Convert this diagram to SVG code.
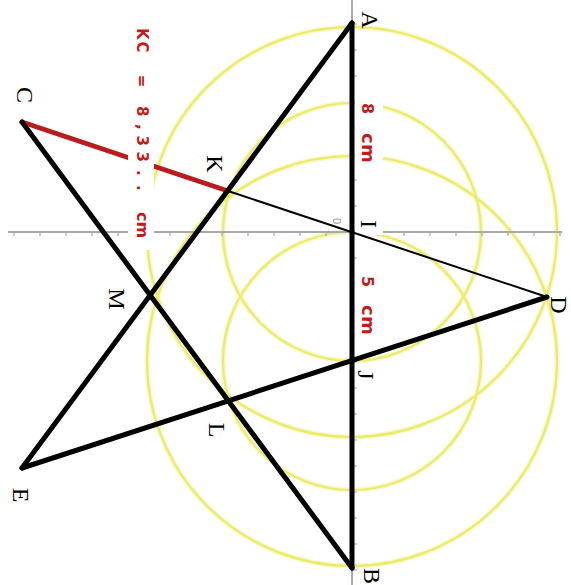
<svg xmlns="http://www.w3.org/2000/svg" width="571" height="585" viewBox="0 0 571 585">
  <style>
    .arc-halo { fill: none; stroke: #f8f8cc; stroke-width: 5; }
    .arc { fill: none; stroke: #ebeb66; stroke-width: 2.2; }
    .axis { stroke: #a8a8a8; stroke-width: 2; fill: none; }
    .tick { stroke: #a8a8a8; stroke-width: 1.2; }
    .thick { stroke: #000; stroke-width: 5; stroke-linecap: round; fill: none; }
    .thin { stroke: #000; stroke-width: 2; fill: none; }
    .redline { stroke: #b81c1c; stroke-width: 5; stroke-linecap: round; fill: none; }
    .lbl { font-family: "Liberation Serif", "Times New Roman", serif; font-size: 24px; fill: #000; text-anchor: middle; }
    .red { font-family: "DejaVu Sans", "Liberation Sans", sans-serif; font-weight: bold; font-size: 15px; fill: #c41a1a; }
    .mask { fill: #fff; }
  </style>

  <rect width="571" height="585" fill="#fff"/>

  <!-- construction circles -->
  <g id="circles">
    <circle class="arc-halo" cx="352" cy="232" r="205"/>
    <circle class="arc-halo" cx="352" cy="361" r="205"/>
    <circle class="arc-halo" cx="352" cy="232" r="129"/>
    <circle class="arc-halo" cx="352" cy="361" r="129"/>
    <circle class="arc" cx="352" cy="232" r="205"/>
    <circle class="arc" cx="352" cy="361" r="205"/>
    <circle class="arc" cx="352" cy="232" r="129"/>
    <circle class="arc" cx="352" cy="361" r="129"/>
  </g>

  <!-- axes -->
  <g id="axes">
    <line class="axis" x1="8" y1="232" x2="562" y2="232"/>
    <line class="axis" x1="352" y1="0" x2="352" y2="585"/>
    <path class="tick" d="M14 232v4M40 232v4M66 232v4M92 232v4M118 232v4M144 232v4M170 232v4M196 232v4M222 232v4M248 232v4M274 232v4M300 232v4M326 232v4M378 232v4M404 232v4M430 232v4M456 232v4M482 232v4M508 232v4M534 232v4M560 232v4"/>
    <path class="tick" d="M352 24h5M352 50h5M352 76h5M352 102h5M352 128h5M352 154h5M352 180h5M352 206h5M352 258h5M352 284h5M352 310h5M352 336h5M352 362h5M352 388h5M352 414h5M352 440h5M352 466h5M352 492h5M352 518h5M352 544h5M352 570h5"/>
    <text transform="rotate(90)" x="221" y="-333" text-anchor="middle" style="font-family:'Liberation Sans',Arial,sans-serif;font-size:11px;fill:#9a9a9a">0</text>
  </g>

  <!-- red segment KC drawn before label masks -->
  <g id="connectors">
    <line class="redline" x1="22" y1="122" x2="228" y2="191"/>
  </g>

  <!-- label backgrounds -->
  <g id="label-backgrounds">
    <rect class="mask" x="128" y="22" width="26" height="228"/>
    <rect class="mask" x="355" y="97" width="28" height="72"/>
    <rect class="mask" x="355" y="214" width="28" height="21"/>
    <rect class="mask" x="355" y="268" width="28" height="72"/>
  </g>

  <g id="connectors-black">
    <line class="thin" x1="228" y1="191" x2="547" y2="297"/>
    <line class="thick" x1="352" y1="23" x2="352" y2="568"/>
    <line class="thick" x1="352" y1="23" x2="22" y2="468"/>
    <line class="thick" x1="22" y1="468" x2="547" y2="297"/>
    <line class="thick" x1="352" y1="568" x2="22" y2="122"/>
  </g>

  <!-- measurement labels -->
  <g id="measure-KC">
    <text class="red" transform="rotate(90)" y="-137" x="28 41.5 60 74.7 95 106 124 135.5 151.5 170 185 200">KC = 8,33.. <tspan x="212 221.5" style="font-size:16px">cm</tspan></text>
  </g>
  <g id="measure-AI">
    <text class="red" transform="rotate(90)" y="-362" x="103 115" style="font-size:16px">8 <tspan x="133 144" style="font-size:18px">cm</tspan></text>
  </g>
  <g id="measure-IJ">
    <text class="red" transform="rotate(90)" y="-362" x="276 290" style="font-size:16px">5 <tspan x="305 316" style="font-size:18px">cm</tspan></text>
  </g>

  <!-- point labels (nodes) -->
  <g id="A"><text class="lbl" transform="rotate(90)" x="20" y="-362">A</text></g>
  <g id="B"><text class="lbl" transform="rotate(90)" x="576" y="-364">B</text></g>
  <g id="C"><text class="lbl" transform="rotate(90)" x="95" y="-17">C</text></g>
  <g id="D"><text class="lbl" transform="rotate(90)" x="305" y="-551">D</text></g>
  <g id="E"><text class="lbl" transform="rotate(90)" x="495" y="-13">E</text></g>
  <g id="I"><text class="lbl" transform="rotate(90)" x="224" y="-361">I</text></g>
  <g id="J"><text class="lbl" transform="rotate(90)" x="375" y="-358">J</text></g>
  <g id="K"><text class="lbl" transform="rotate(90)" x="164" y="-207">K</text></g>
  <g id="L"><text class="lbl" transform="rotate(90)" x="430" y="-209">L</text></g>
  <g id="M"><text class="lbl" transform="rotate(90)" x="299" y="-109">M</text></g>
</svg>
